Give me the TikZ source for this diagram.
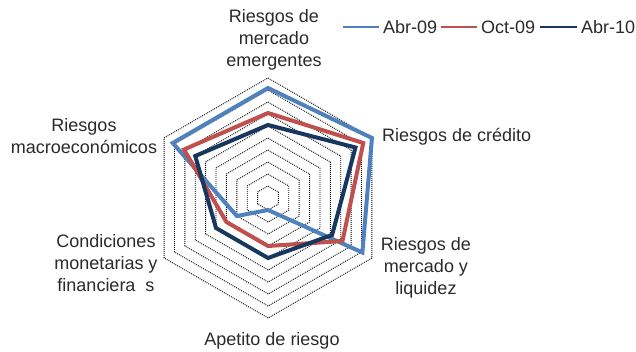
\documentclass[tikz,border=0pt]{standalone}
\usepackage{fontspec}
\setmainfont{Liberation Sans}
\usetikzlibrary{positioning}

\definecolor{azul}{HTML}{4F81BD}
\definecolor{rojo}{HTML}{C0504D}
\definecolor{marino}{HTML}{17375E}
\definecolor{texto}{HTML}{2A2A2A}

\begin{document}
\begin{tikzpicture}[
        x=1pt, y=1pt,
        every node/.style={inner sep=0pt, text=texto, font=\fontsize{18}{22}\selectfont},
        etiqueta/.style={align=center},
        rejilla/.style={draw=black, line width=0.9pt, dash pattern=on 0.9pt off 1.1pt},
        serie/.style={line width=4pt},
        linea/.style={line width=2.5pt, shorten >=4pt}
    ]

    % Marco
    \useasboundingbox (0,0) rectangle (636,351);

    % Rejilla y series
    \begin{scope}[shift={(268,153)}]
        \coordinate (centro) at (0,0);
        \foreach \r in {12,24,...,120}
            \draw[rejilla] (90:\r) -- (30:\r) -- (-30:\r) -- (-90:\r) -- (-150:\r) -- (150:\r) -- cycle;

        % Abr-09
        \draw[serie, azul] (90:110) -- (30:120) -- (-30:109) -- (-90:12) -- (-150:36) -- (150:110) -- cycle;
        % Oct-09
        \draw[serie, rojo] (90:85) -- (30:110) -- (-30:86) -- (-90:48) -- (-150:48) -- (150:97) -- cycle;
        % Abr-10
        \draw[serie, marino] (90:73) -- (30:101) -- (-30:74) -- (-90:60) -- (-150:60) -- (150:84) -- cycle;
    \end{scope}

    % Ejes
    \node[etiqueta, anchor=north] (emergentes) at (274,342) {Riesgos de\\mercado\\emergentes};
    \node[anchor=base west] (credito) at (382,209.3) {Riesgos de crédito};
    \node[etiqueta, anchor=north] (liquidez) at (426,114) {Riesgos de\\mercado y\\liquidez};
    \node[anchor=base] (apetito) at (272,6) {Apetito de riesgo};
    \node[etiqueta, anchor=north] (condiciones) at (106,117) {Condiciones\\monetarias y\\financiera\ \ s};
    \node[etiqueta, anchor=north] (macro) at (84,233) {Riesgos\\macroeconómicos};

    % Leyenda
    \coordinate (leyAbr09) at (343,324);
    \node[anchor=base west] (abr09) at (383,317.7) {Abr-09};
    \draw[linea, azul] (leyAbr09) -- (leyAbr09 -| abr09.west);

    \coordinate (leyOct09) at (441,324);
    \node[anchor=base west] (oct09) at (481,317.7) {Oct-09};
    \draw[linea, rojo] (leyOct09) -- (leyOct09 -| oct09.west);

    \coordinate (leyAbr10) at (540,324);
    \node[anchor=base west] (abr10) at (581,317.7) {Abr-10};
    \draw[linea, marino] (leyAbr10) -- (leyAbr10 -| abr10.west);

\end{tikzpicture}
\end{document}
